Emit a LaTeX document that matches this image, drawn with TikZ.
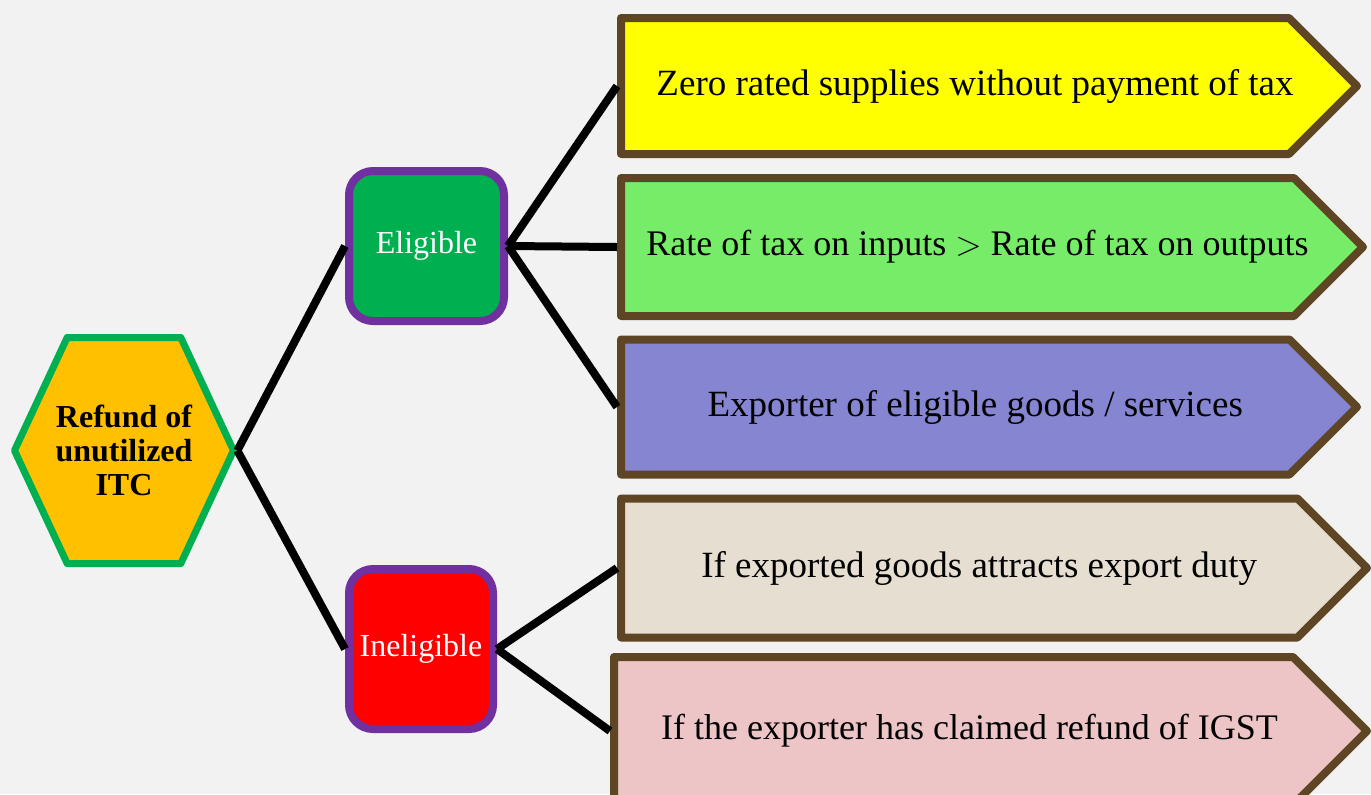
\documentclass[tikz,border=0pt]{standalone}
\usepackage{fontspec}
\setmainfont{Liberation Serif}
\usetikzlibrary{shapes.symbols}
\definecolor{pagebg}{HTML}{F2F2F2}
\definecolor{hubfill}{HTML}{FFC000}
\definecolor{hubedge}{HTML}{00B050}
\definecolor{branchedge}{HTML}{7030A0}
\definecolor{eligfill}{HTML}{00B050}
\definecolor{inelfill}{HTML}{FF0000}
\definecolor{caseedge}{HTML}{5E4524}
\definecolor{caseyellow}{HTML}{FFFF00}
\definecolor{casegreen}{HTML}{77EC69}
\definecolor{caseblue}{HTML}{8585D1}
\definecolor{casebeige}{HTML}{E6DED0}
\definecolor{casepink}{HTML}{EDC5C6}

\begin{document}
\begin{tikzpicture}[
  x=0.5pt,
  y=-0.5pt,
  line join=round,
  hub/.style={shape=signal,signal to=east and west,signal pointer angle=130,
    draw=hubedge,line width=3.5pt,fill=hubfill,inner sep=0pt,
    minimum width=109.5pt,minimum height=113pt},
  hubtext/.style={align=center,inner sep=0pt,
    font=\bfseries\fontsize{16}{17}\selectfont},
  branch/.style={rectangle,rounded corners=12pt,draw=branchedge,line width=4pt,
    text=white,inner sep=0pt,font=\fontsize{16}{19}\selectfont},
  case/.style={shape=signal,signal to=east,signal pointer angle=90,
    draw=caseedge,line width=4pt,anchor=west,inner sep=0pt,
    minimum height=68pt,minimum width=368pt},
  casetext/.style={xshift=10pt,inner sep=0pt,font=\fontsize{18.5}{22}\selectfont},
  link/.style={draw=black,line width=4pt}
]
  % Page background and size.
  \fill[pagebg] (0,0) rectangle (1371,794);
  \useasboundingbox (0,0) rectangle (1371,794);

  % Root hexagon (text may run past the flat top edge).
  \node[hub,label={[hubtext]center:Refund of\\unutilized\\ITC}] (refund) at (124,450.5) {};

  % Eligible / ineligible branches.
  \node[branch,fill=eligfill,minimum width=77.5pt,minimum height=75pt] (elig) at (426.5,246) {Eligible};
  \node[branch,fill=inelfill,minimum width=72pt,minimum height=80pt] (inel) at (421,649) {Ineligible};

  % Cases under each branch.
  \node[case,fill=caseyellow,
    label={[casetext]center:Zero rated supplies without payment of tax}] (zero) at (617,86) {};
  \node[case,fill=casegreen,minimum width=371pt,minimum height=69pt,
    label={[casetext,font=\fontsize{18}{22}\selectfont]center:Rate of tax on inputs $>$ Rate of tax on outputs}] (rate) at (617,247) {};
  \node[case,fill=caseblue,minimum height=67.5pt,
    label={[casetext]center:Exporter of eligible goods / services}] (exporter) at (617,407) {};
  \node[case,fill=casebeige,minimum width=373pt,minimum height=69.5pt,
    label={[casetext]center:If exported goods attracts export duty}] (duty) at (617,568) {};
  \node[case,fill=casepink,minimum width=376.5pt,minimum height=74pt,
    label={[casetext,xshift=-2pt,font=\fontsize{18}{22}\selectfont]center:If the exporter has claimed refund of IGST}] (igst) at (610,731) {};

  % Connectors.
  \draw[link] (refund.east) -- (elig.west);
  \draw[link] (refund.east) -- (inel.west);
  \foreach \c in {zero,rate,exporter} {
    \draw[link] (elig.east) -- (\c.west);
  }
  \foreach \c in {duty,igst} {
    \draw[link] (inel.east) -- (\c.west);
  }
\end{tikzpicture}
\end{document}
